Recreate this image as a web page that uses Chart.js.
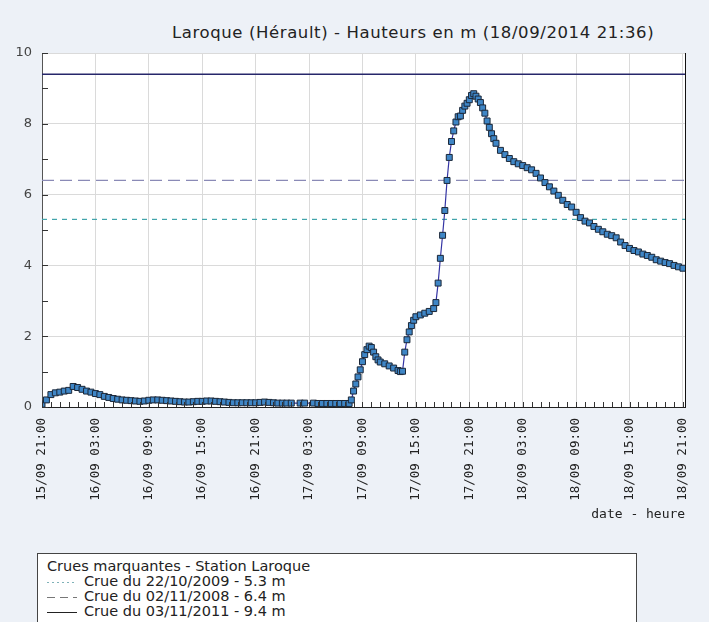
<!DOCTYPE html>
<html lang="fr">
<head>
<meta charset="utf-8">
<title>Laroque (Hérault) - Hauteurs</title>
<script src="https://cdn.jsdelivr.net/npm/chart.js@4/dist/chart.umd.min.js"></script>
<style>
  html, body { margin: 0; padding: 0; }
  body {
    width: 709px; height: 622px; overflow: hidden; position: relative;
    background: #edf1f7; font-family: "DejaVu Sans", sans-serif; color: #222;
  }
  #graph { position: absolute; left: 0; top: 0; }
  #titre {
    position: absolute; left: 172px; top: 22px; margin: 0;
    font: normal 16.5px/22px "DejaVu Sans", sans-serif; letter-spacing: 0.6px;
    color: #222; white-space: nowrap;
  }
  #legende {
    position: absolute; left: 37px; top: 553px; width: 600px; height: 120px;
    box-sizing: border-box; border: 1px solid #444; background: #fff;
    padding: 5px 9px; font-size: 14.5px; line-height: 15px;
  }
  #legende .ligne { display: flex; align-items: center; white-space: nowrap; }
  #legende svg { width: 32px; height: 10px; margin-right: 5px; flex: none; }
</style>
</head>
<body>
<div id="titre">Laroque (Hérault) - Hauteurs en m (18/09/2014 21:36)</div>
<canvas id="graph" width="709" height="530"></canvas>
<div id="legende"></div>
<script>
// Relevés de la station (heure locale) et hauteurs d'eau en mètres
const readingTimes = [
  "15/09 21:00","15/09 21:30","15/09 22:00","15/09 22:30","15/09 23:00","15/09 23:30",
  "16/09 00:00","16/09 00:30","16/09 01:00","16/09 01:30","16/09 02:00","16/09 02:30",
  "16/09 03:00","16/09 03:30","16/09 04:00","16/09 04:30","16/09 05:00","16/09 05:30",
  "16/09 06:00","16/09 06:30","16/09 07:00","16/09 07:30","16/09 08:00","16/09 08:30",
  "16/09 09:00","16/09 09:30","16/09 10:00","16/09 10:30","16/09 11:00","16/09 11:30",
  "16/09 12:00","16/09 12:30","16/09 13:00","16/09 13:30","16/09 14:00","16/09 14:30",
  "16/09 15:00","16/09 15:30","16/09 16:00","16/09 16:30","16/09 17:00","16/09 17:30",
  "16/09 18:00","16/09 18:30","16/09 19:00","16/09 19:30","16/09 20:00","16/09 20:30",
  "16/09 21:00","16/09 21:30","16/09 22:00","16/09 22:30","16/09 23:00","16/09 23:30",
  "17/09 00:00","17/09 00:30","17/09 01:00","17/09 02:00","17/09 02:30",
  "17/09 03:30","17/09 04:00","17/09 04:30","17/09 05:00","17/09 05:30","17/09 06:00",
  "17/09 06:30","17/09 07:00","17/09 07:30","17/09 07:45",
  "17/09 08:00","17/09 08:15","17/09 08:30","17/09 08:45","17/09 09:00","17/09 09:15",
  "17/09 09:30","17/09 09:45","17/09 10:00","17/09 10:15","17/09 10:30","17/09 10:45",
  "17/09 11:00","17/09 11:30","17/09 12:00","17/09 12:30","17/09 13:00","17/09 13:15",
  "17/09 13:30","17/09 13:45","17/09 14:00","17/09 14:15","17/09 14:30","17/09 14:45",
  "17/09 15:00","17/09 15:30","17/09 16:00","17/09 16:30","17/09 17:00","17/09 17:15",
  "17/09 17:30","17/09 17:45","17/09 18:00","17/09 18:15","17/09 18:30","17/09 18:45",
  "17/09 19:00","17/09 19:15","17/09 19:30","17/09 19:45","17/09 20:00","17/09 20:15",
  "17/09 20:30","17/09 20:45","17/09 21:00","17/09 21:15","17/09 21:30","17/09 21:45",
  "17/09 22:00","17/09 22:15","17/09 22:30","17/09 22:45","17/09 23:00","17/09 23:15",
  "17/09 23:30","17/09 23:45","18/09 00:00","18/09 00:30","18/09 01:00","18/09 01:30",
  "18/09 02:00","18/09 02:30","18/09 03:00","18/09 03:30","18/09 04:00","18/09 04:30",
  "18/09 05:00","18/09 05:30","18/09 06:00","18/09 06:30","18/09 07:00","18/09 07:30",
  "18/09 08:00","18/09 08:30","18/09 09:00","18/09 09:30","18/09 10:00","18/09 10:30",
  "18/09 11:00","18/09 11:30","18/09 12:00","18/09 12:30","18/09 13:00","18/09 13:30",
  "18/09 14:00","18/09 14:30","18/09 15:00","18/09 15:30","18/09 16:00","18/09 16:30",
  "18/09 17:00","18/09 17:30","18/09 18:00","18/09 18:30","18/09 19:00","18/09 19:30",
  "18/09 20:00","18/09 20:30","18/09 21:00"
];

const readingLevels = [
  0.08,0.20,0.35,0.40,0.42,0.45,
  0.47,0.58,0.55,0.50,0.45,0.42,
  0.38,0.35,0.30,0.27,0.24,0.22,
  0.20,0.19,0.18,0.17,0.16,0.17,
  0.19,0.20,0.20,0.19,0.18,0.17,
  0.16,0.15,0.14,0.14,0.15,0.16,
  0.16,0.17,0.17,0.16,0.15,0.14,
  0.13,0.12,0.12,0.12,0.12,0.12,
  0.12,0.13,0.14,0.13,0.12,0.11,
  0.11,0.11,0.11,0.11,0.11,
  0.11,0.10,0.10,0.10,0.10,0.10,
  0.10,0.10,0.10,0.20,
  0.45,0.65,0.85,1.05,1.28,1.48,
  1.62,1.72,1.68,1.55,1.42,1.33,
  1.27,1.22,1.16,1.10,1.03,1.00,
  1.01,1.55,1.90,2.12,2.30,2.45,
  2.55,2.60,2.65,2.70,2.78,2.95,
  3.50,4.20,4.85,5.55,6.40,7.05,
  7.50,7.80,8.05,8.20,8.22,8.38,
  8.50,8.58,8.68,8.80,8.85,8.78,
  8.70,8.60,8.45,8.30,8.08,7.90,
  7.72,7.58,7.45,7.25,7.13,7.02,
  6.93,6.87,6.82,6.76,6.70,6.60,
  6.47,6.34,6.22,6.10,5.98,5.84,
  5.72,5.65,5.50,5.35,5.25,5.20,
  5.10,5.02,4.95,4.88,4.84,4.78,
  4.66,4.56,4.48,4.42,4.38,4.32,
  4.28,4.23,4.16,4.12,4.08,4.05,
  4.00,3.96,3.92
];

// Libellés de l'axe des temps, un toutes les 6 heures
const timeTickLabels = [
  "15/09 21:00","16/09 03:00","16/09 09:00","16/09 15:00","16/09 21:00",
  "17/09 03:00","17/09 09:00","17/09 15:00","17/09 21:00",
  "18/09 03:00","18/09 09:00","18/09 15:00","18/09 21:00"
];

// Crues marquantes de la station
const floodNames  = ["Crue du 22/10/2009", "Crue du 02/11/2008", "Crue du 03/11/2011"];
const floodLevels = [5.3, 6.4, 9.4];
const floodColors = ["#3fa3aa", "#8a8ab6", "#26266a"];
const floodDashes = [[5, 5], [12, 6], []];
const floodLegendDashes = ["2 3", "8 5", ""];
const floodLegendColors = ["#7fb2b8", "#777777", "#222222"];

const legendTitle = "Crues marquantes - Station Laroque";
const axisTitle = "date - heure";

// Origine de l'axe : 15/09 21:00 ; abscisses en heures
const START_DAY = 15, START_HOUR = 21;
const axisEndHours = 72.25;

function hoursFromStart(stamp) {
  const [date, time] = stamp.split(" ");
  const day = parseInt(date.split("/")[0], 10);
  const [hh, mm] = time.split(":").map(Number);
  return (day - START_DAY) * 24 + hh + mm / 60 - START_HOUR;
}

const readings = readingTimes.map((t, i) => ({ x: hoursFromStart(t), y: readingLevels[i] }));

const floodDatasets = floodLevels.map((lvl, i) => ({
  label: floodNames[i] + " - " + lvl + " m",
  data: [{ x: 0, y: lvl }, { x: axisEndHours, y: lvl }],
  borderColor: floodColors[i],
  borderWidth: i === 2 ? 1.5 : 1.2,
  borderDash: floodDashes[i],
  pointRadius: 0,
  tension: 0,
  order: 2
}));

// Fond blanc de la zone de tracé
const plotBackground = {
  id: "fond",
  beforeDraw(chart) {
    const { ctx, chartArea: a } = chart;
    ctx.save();
    ctx.fillStyle = "#ffffff";
    ctx.fillRect(a.left, a.top, a.right - a.left, a.bottom - a.top);
    ctx.restore();
  }
};

// Cadre : petites graduations tournées vers l'intérieur et bord droit
const framePlugin = {
  id: "cadre",
  afterDraw(chart) {
    const { ctx, chartArea: a, scales: { x, y } } = chart;
    ctx.save();
    ctx.lineWidth = 1;
    ctx.strokeStyle = "#333";
    ctx.beginPath();
    x.ticks.forEach(t => {
      const px = Math.round(x.getPixelForValue(t.value)) + 0.5;
      ctx.moveTo(px, a.bottom);
      ctx.lineTo(px, a.bottom - 5);
    });
    y.ticks.forEach(t => {
      const py = Math.round(y.getPixelForValue(t.value)) + 0.5;
      ctx.moveTo(a.left, py);
      ctx.lineTo(a.left + 6, py);
    });
    ctx.stroke();
    ctx.strokeStyle = "#111";
    ctx.beginPath();
    ctx.moveTo(Math.round(a.right) + 0.5, a.top);
    ctx.lineTo(Math.round(a.right) + 0.5, a.bottom);
    ctx.stroke();
    ctx.restore();
  }
};

new Chart(document.getElementById("graph"), {
  type: "line",
  data: {
    datasets: [
      {
        label: "Hauteur (m)",
        data: readings,
        borderColor: "#3434a4",
        borderWidth: 1.2,
        tension: 0,
        pointStyle: "rect",
        pointRadius: 4.2,
        pointBackgroundColor: "#3f86c6",
        pointBorderColor: "#1b2738",
        pointBorderWidth: 1,
        order: 1
      },
      ...floodDatasets
    ]
  },
  options: {
    responsive: false,
    animation: false,
    events: [],
    layout: { padding: { top: 53, right: 17, left: 0, bottom: 0 } },
    plugins: { legend: { display: false }, tooltip: { enabled: false }, title: { display: false } },
    scales: {
      x: {
        type: "linear",
        min: 0,
        max: axisEndHours,
        afterFit(s) { s.height = 123; },
        ticks: {
          stepSize: 1,
          autoSkip: false,
          includeBounds: false,
          minRotation: 90,
          maxRotation: 90,
          padding: 11,
          color: "#222",
          font: { family: "DejaVu Sans Mono", size: 12.5 },
          callback(v) { return v % 6 === 0 ? timeTickLabels[v / 6] : ""; }
        },
        grid: {
          drawTicks: false,
          color(c) { return c.tick && c.tick.value % 6 === 0 ? "#dadada" : "rgba(0,0,0,0)"; }
        },
        border: { color: "#222", width: 1 },
        title: {
          display: true,
          text: axisTitle,
          align: "end",
          color: "#222",
          font: { family: "DejaVu Sans Mono", size: 13 },
          padding: { top: 0, bottom: 8 }
        }
      },
      y: {
        min: 0,
        max: 10,
        afterFit(s) { s.width = 42; },
        ticks: {
          stepSize: 1,
          padding: 10,
          color: "#444",
          font: { family: "DejaVu Sans", size: 13 },
          callback(v) { return v % 2 === 0 ? String(v) : ""; }
        },
        grid: {
          drawTicks: false,
          color(c) { return c.tick && c.tick.value % 2 === 0 ? "#dadada" : "rgba(0,0,0,0)"; }
        },
        border: { color: "#555", width: 1 }
      }
    }
  },
  plugins: [plotBackground, framePlugin]
});

// Cartouche des crues marquantes
const legendBox = document.getElementById("legende");
const head = document.createElement("div");
head.textContent = legendTitle;
legendBox.appendChild(head);
floodNames.forEach((name, i) => {
  const row = document.createElement("div");
  row.className = "ligne";
  const dash = floodLegendDashes[i] ? ` stroke-dasharray="${floodLegendDashes[i]}"` : "";
  row.innerHTML = `<svg viewBox="0 0 32 10"><line x1="0" y1="5.5" x2="30" y2="5.5" stroke="${floodLegendColors[i]}" stroke-width="1"${dash}/></svg>`;
  const txt = document.createElement("span");
  txt.textContent = name + " - " + floodLevels[i] + " m";
  row.appendChild(txt);
  legendBox.appendChild(row);
});
</script>
</body>
</html>
